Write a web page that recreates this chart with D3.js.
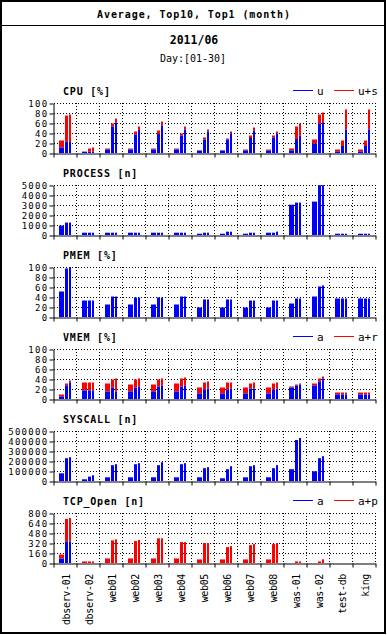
<!DOCTYPE html>
<html><head><meta charset="utf-8">
<script src="https://cdn.jsdelivr.net/npm/d3@7"></script>
<style>body{margin:0;background:#fff}svg{display:block}</style>
</head><body><svg id="c"></svg>
<script>
const hosts = ["dbserv-01","dbserv-02","web01","web02","web03","web04","web05","web06","web07","web08","was-01","was-02","test-db","king"];
// each entry: [average, top10, top1]
const cpuU  = [[11,23,22],[2.5,2.7,2.7],[7,53,61],[7,37,46],[7,38,55],[7,35,47],[5,27,43],[5,27,39],[5,30,45],[5,31,39],[5,28,35],[19,59,60],[3,14,47],[3,14,47]];
const cpuUS = [[25,75,77],[3,9,11],[9,59,69],[9,43,53],[9,45,63],[9,39,53],[5.3,31,47],[5.3,29,43],[7,35,51],[7,35,43],[9,53,59],[27,77,81],[7,25,87],[7,25,87]];
const procN = [[940,1240,1240],[230,230,230],[230,230,230],[230,230,230],[230,230,230],[230,230,230],[130,230,230],[130,330,330],[130,230,230],[230,230,330],[3030,3240,3240],[3340,4980,4980],[130,130,130],[130,130,130]];
const pmem  = [[51,97,100],[33,33,33],[25,41,41],[25,39,39],[25,39,39],[25,41,41],[19,35,35],[19,35,35],[19,33,33],[19,33,33],[27,37,37],[41,61,63],[37,37,37],[37,37,37]];
const vmemA  = [[5,27,33],[17,17,17],[15,23,15],[15,23,25],[15,25,27],[15,25,27],[11,19,21],[11,19,21],[11,21,21],[11,19,21],[23,27,29],[27,35,41],[9,9,9],[9,9,9]];
const vmemAR = [[9,31,37],[33,33,33],[31,39,41],[29,39,41],[29,39,41],[31,41,43],[23,33,35],[23,33,33],[23,31,33],[23,31,33],[25,29,31],[31,41,45],[13,13,13],[13,13,13]];
const syscall = [[77000,228000,238000],[17000,44000,57000],[37000,158000,168000],[37000,168000,178000],[37000,158000,188000],[37000,168000,178000],[37000,128000,138000],[27000,118000,148000],[37000,148000,158000],[37000,128000,158000],[118000,410000,430000],[97000,228000,248000],[0,0,0],[0,0,0]];
const tcpA  = [[72,345,345],[0,0,0],[0,0,0],[0,0,0],[0,0,0],[0,0,0],[0,0,0],[0,0,0],[0,0,0],[0,0,0],[0,0,0],[0,0,0],[0,0,0],[0,0,0]];
const tcpAP = [[135,705,720],[25,25,25],[73,362,378],[73,351,368],[73,395,395],[73,335,335],[57,319,319],[57,254,270],[57,286,303],[57,303,319],[0,25,25],[0,25,59],[0,0,0],[0,0,0]];

const cpuTicks  = [0,20,40,60,80,100];
const procTicks = [0,1000,2000,3000,4000,5000];
const pctTicks  = [0,20,40,60,80,100];
const sysTicks  = [0,100000,200000,300000,400000,500000];
const tcpTicks  = [0,160,320,480,640,800];

const mainTitle = "Average, Top10, Top1 (month)";
const subTitle = "2011/06";
const dayLabel = "Day:[01-30]";

const panels = [
  {title:"CPU [%]", ticks:cpuTicks, low:cpuU, high:cpuUS, legend:["u","u+s"]},
  {title:"PROCESS [n]", ticks:procTicks, low:procN, high:null, legend:null},
  {title:"PMEM [%]", ticks:pctTicks, low:pmem, high:null, legend:null},
  {title:"VMEM [%]", ticks:pctTicks, low:vmemA, high:vmemAR, legend:["a","a+r"]},
  {title:"SYSCALL [n]", ticks:sysTicks, low:syscall, high:null, legend:null},
  {title:"TCP_Open [n]", ticks:tcpTicks, low:tcpA, high:tcpAP, legend:["a","a+p"]}
];

const W = 387, H = 635;
const MONO = "'DejaVu Sans Mono','Liberation Mono',monospace";
const svg = d3.select("#c").attr("width", W).attr("height", H);
svg.append("rect").attr("x",1).attr("y",1).attr("width",384).attr("height",632)
  .attr("fill","#fff").attr("stroke","#000").attr("stroke-width",2);
svg.append("line").attr("x1",1).attr("x2",385).attr("y1",25.5).attr("y2",25.5).attr("stroke","#000");

svg.append("text").attr("x",194).attr("y",18).attr("text-anchor","middle")
  .style("font-family",MONO).style("font-size","10px").style("font-weight","bold")
  .style("letter-spacing","0.9px").text(mainTitle);
svg.append("text").attr("x",194).attr("y",44).attr("text-anchor","middle")
  .style("font-family",MONO).style("font-size","11.5px").style("font-weight","bold").text(subTitle);
svg.append("text").attr("x",193).attr("y",62).attr("text-anchor","middle")
  .style("font-family",MONO).style("font-size","10px").text(dayLabel);

const X0 = 54, X1 = 376;
const x = d3.scaleBand().domain(hosts).range([X0, X1]).paddingInner(0).paddingOuter(0);
const xb = d3.scaleLinear().domain([0, hosts.length]).range([X0, X1]);
const sub = [{off:5,w:5},{off:11,w:3},{off:15,w:2}];

panels.forEach((p, i) => {
  const top = 103 + i*82, bottom = top + 50;
  const g = svg.append("g");
  const y = d3.scaleLinear().domain([0, d3.max(p.ticks)]).range([bottom, top]);

  // grid
  g.append("g").selectAll("line").data(p.ticks.slice(1)).join("line")
    .attr("x1",X0).attr("x2",X1).attr("y1",d=>Math.round(y(d))+0.5).attr("y2",d=>Math.round(y(d))+0.5)
    .attr("stroke","#000").attr("stroke-dasharray","1,2");
  g.append("g").selectAll("line").data(d3.range(1, hosts.length+1)).join("line")
    .attr("x1",d=>Math.round(xb(d))-0.5).attr("x2",d=>Math.round(xb(d))-0.5).attr("y1",top).attr("y2",bottom)
    .attr("stroke","#000").attr("stroke-dasharray","1,2");

  // bars
  hosts.forEach((h, hi) => {
    const bx = x(h);
    sub.forEach((s, si) => {
      const lo = p.low[hi][si];
      if (p.high) {
        const hv = p.high[hi][si];
        if (hv > lo) g.append("rect").attr("x",bx+s.off).attr("width",s.w)
          .attr("y",y(hv)).attr("height",y(lo)-y(hv)).attr("fill","#ff0000");
      }
      if (lo > 0) g.append("rect").attr("x",bx+s.off).attr("width",s.w)
        .attr("y",y(lo)).attr("height",bottom-y(lo)).attr("fill","#0000ff");
    });
  });

  // y axis
  const ya = g.append("g").attr("transform",`translate(${X0-0.5},0.5)`)
    .call(d3.axisLeft(y).tickValues(p.ticks).tickSize(4).tickSizeOuter(0).tickPadding(1).tickFormat(d3.format("d")));
  ya.selectAll("text").style("font-family",MONO).style("font-size","9px")
    .style("letter-spacing","1.3px").attr("fill","#000");
  ya.selectAll("line,path").attr("stroke","#000");
  // x axis (boundary ticks)
  const xa = g.append("g").attr("transform",`translate(-0.5,${bottom+0.5})`)
    .call(d3.axisBottom(xb).tickValues(d3.range(0, hosts.length+1)).tickSize(4).tickSizeOuter(0).tickFormat(""));
  xa.selectAll("line,path").attr("stroke","#000");

  // title
  g.append("text").attr("x",63).attr("y",top-8).style("font-family",MONO)
    .style("font-size","10px").style("font-weight","bold").style("letter-spacing","0.8px").text(p.title);

  // legend
  if (p.legend) {
    const ly = top - 12.5;
    g.append("line").attr("x1",293).attr("x2",313).attr("y1",ly).attr("y2",ly).attr("stroke","#0000ff");
    g.append("text").attr("x",317).attr("y",top-8).style("font-family",MONO).style("font-size","11px").text(p.legend[0]);
    g.append("line").attr("x1",334).attr("x2",354).attr("y1",ly).attr("y2",ly).attr("stroke","#ff0000");
    g.append("text").attr("x",358).attr("y",top-8).style("font-family",MONO).style("font-size","11px").text(p.legend[1]);
  }

  if (i === panels.length - 1) {
    g.append("g").selectAll("text").data(hosts).join("text")
      .attr("transform", d => `translate(${x(d)+x.bandwidth()/2+4},${bottom+11}) rotate(-90)`)
      .attr("text-anchor","end").style("font-family",MONO).style("font-size","10px")
      .style("letter-spacing","-0.35px").text(d=>d);
  }
});
</script></body></html>
